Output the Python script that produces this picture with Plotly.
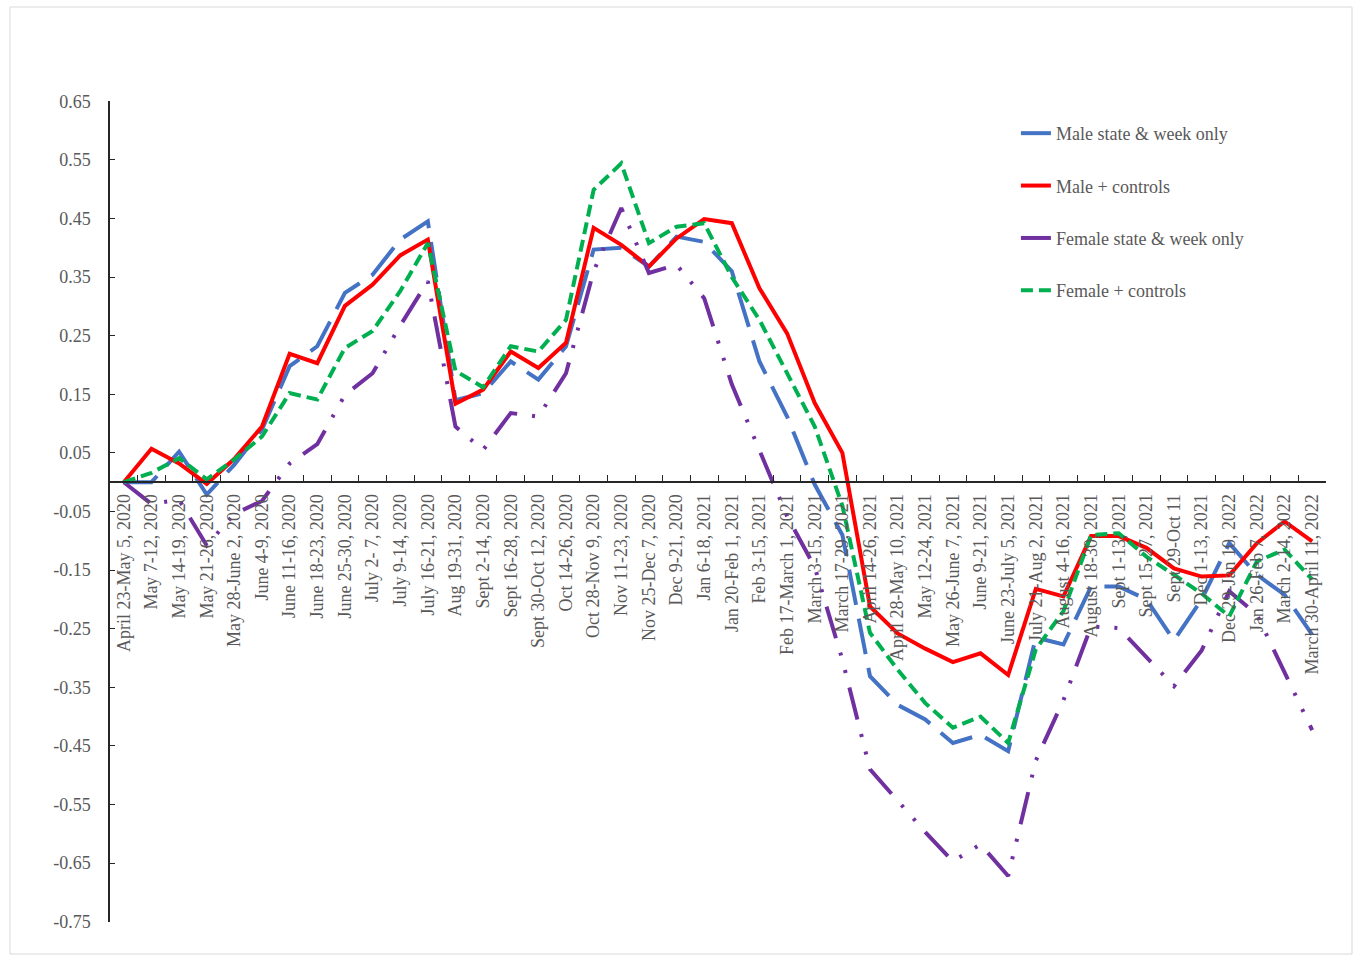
import plotly.graph_objects as go

# Survey periods (x categories)
PERIODS = [
    "April 23-May 5, 2020", "May 7-12, 2020", "May 14-19, 2020", "May 21-26, 2020",
    "May 28-June 2, 2020", "June 4-9, 2020", "June 11-16, 2020", "June 18-23, 2020",
    "June 25-30, 2020", "July 2- 7, 2020", "July 9-14, 2020", "July 16-21, 2020",
    "Aug 19-31, 2020", "Sept 2-14, 2020", "Sept 16-28, 2020", "Sept 30-Oct 12, 2020",
    "Oct 14-26, 2020", "Oct 28-Nov 9, 2020", "Nov 11-23, 2020", "Nov 25-Dec 7, 2020",
    "Dec 9-21, 2020", "Jan 6-18, 2021", "Jan 20-Feb 1, 2021", "Feb 3-15, 2021",
    "Feb 17-March 1, 2021", "March 3-15, 2021", "March 17-29, 2021", "April 14-26, 2021",
    "April 28-May 10, 2021", "May 12-24, 2021", "May 26-June 7, 2021", "June 9-21, 2021",
    "June 23-July 5, 2021", "July 21-Aug 2, 2021", "August 4-16, 2021", "August 18-30, 2021",
    "Sept 1-13, 2021", "Sept 15-27, 2021", "Sept 29-Oct 11", "Dec 1-13, 2021",
    "Dec 29-Jan 10, 2022", "Jan 26-Feb 7, 2022", "March 2-14, 2022", "March 30-April 11, 2022",
]

MALE_STATE_WEEK = [
    0.0, 0.0, 0.052, -0.021, 0.030, 0.090, 0.198, 0.232, 0.323, 0.354, 0.414, 0.445,
    0.140, 0.152, 0.206, 0.175, 0.232, 0.397, 0.400, 0.368, 0.419, 0.410, 0.360, 0.206,
    0.112, -0.004, -0.090, -0.331, -0.380, -0.405, -0.445, -0.431, -0.459, -0.265, -0.277,
    -0.178, -0.178, -0.200, -0.270, -0.200, -0.104, -0.158, -0.192, -0.260,
]

MALE_CONTROLS = [
    0.0, 0.057, 0.032, -0.003, 0.040, 0.095, 0.219, 0.203, 0.301, 0.337, 0.387, 0.414,
    0.134, 0.158, 0.223, 0.195, 0.238, 0.434, 0.405, 0.368, 0.416, 0.449, 0.442, 0.331,
    0.254, 0.135, 0.050, -0.212, -0.258, -0.284, -0.307, -0.292, -0.329, -0.182, -0.195,
    -0.092, -0.092, -0.112, -0.147, -0.161, -0.159, -0.104, -0.067, -0.101,
]

FEMALE_STATE_WEEK = [
    0.0, -0.037, -0.030, -0.108, -0.054, -0.032, 0.032, 0.065, 0.149, 0.186, 0.267, 0.343,
    0.095, 0.055, 0.118, 0.112, 0.186, 0.360, 0.468, 0.357, 0.371, 0.314, 0.167, 0.055,
    -0.058, -0.145, -0.303, -0.490, -0.544, -0.597, -0.647, -0.618, -0.672, -0.475, -0.372,
    -0.246, -0.249, -0.299, -0.348, -0.287, -0.186, -0.226, -0.323, -0.423,
]

FEMALE_CONTROLS = [
    0.0, 0.016, 0.041, 0.005, 0.039, 0.078, 0.152, 0.141, 0.229, 0.258, 0.326, 0.408,
    0.190, 0.162, 0.232, 0.223, 0.277, 0.499, 0.544, 0.408, 0.436, 0.442, 0.350, 0.277,
    0.186, 0.095, -0.040, -0.257, -0.320, -0.377, -0.419, -0.400, -0.445, -0.285, -0.220,
    -0.090, -0.087, -0.127, -0.158, -0.190, -0.229, -0.135, -0.115, -0.166,
]

Y_TICK_VALUES = [0.65, 0.55, 0.45, 0.35, 0.25, 0.15, 0.05, -0.05, -0.15, -0.25,
                 -0.35, -0.45, -0.55, -0.65, -0.75]
Y_TICK_LABELS = ["0.65", "0.55", "0.45", "0.35", "0.25", "0.15", "0.05", "-0.05",
                 "-0.15", "-0.25", "-0.35", "-0.45", "-0.55", "-0.65", "-0.75"]

FONT = "Liberation Serif, Times New Roman, serif"
TEXT_GREY = "#595959"
Y_MIN, Y_MAX = -0.75, 0.65

series = [
    ("Male state & week only", MALE_STATE_WEEK, "#4472C4", "36px,14px"),
    ("Male + controls", MALE_CONTROLS, "#FF0000", "solid"),
    ("Female state & week only", FEMALE_STATE_WEEK, "#7030A0",
     "33px,15px,3px,15px,3px,15px"),
    ("Female + controls", FEMALE_CONTROLS, "#00B050", "12px,6px"),
]

fig = go.Figure()
for i, (name, values, color, dash) in enumerate(series):
    fig.add_trace(go.Scatter(
        x=PERIODS, y=values, mode="lines", name=name,
        legendgroup=f"g{i}",
        line=dict(color=color, width=4, dash=dash),
    ))

fig.update_layout(
    width=1354, height=955,
    margin=dict(l=110, r=28, t=101, b=33),
    paper_bgcolor="white", plot_bgcolor="white",
    font=dict(family=FONT, size=18, color=TEXT_GREY),
    showlegend=True,
    legend=dict(
        x=0.745, y=0.983, xanchor="left", yanchor="top",
        font=dict(family=FONT, size=18, color=TEXT_GREY),
        bgcolor="rgba(0,0,0,0)", tracegroupgap=26, traceorder="grouped",
    ),
    xaxis=dict(
        type="category", range=[-0.5, len(PERIODS) - 0.5],
        anchor="free", position=(0 - Y_MIN) / (Y_MAX - Y_MIN),
        showline=True, linecolor="#262626", linewidth=1.5,
        ticks="inside", ticklen=6, tickwidth=1.2, tickcolor="#262626",
        tickson="boundaries", tickangle=-90, showgrid=False, zeroline=False,
        tickfont=dict(family=FONT, size=18, color=TEXT_GREY),
        ticklabelstandoff=4,
    ),
    yaxis=dict(
        range=[Y_MIN - 0.0005, Y_MAX + 0.0005],
        tickvals=Y_TICK_VALUES, ticktext=Y_TICK_LABELS,
        showline=True, linecolor="#262626", linewidth=1.5,
        ticks="inside", ticklen=5, tickwidth=1.2, tickcolor="#262626",
        showgrid=False, zeroline=False,
        tickfont=dict(family=FONT, size=18, color=TEXT_GREY),
        ticklabelstandoff=14,
    ),
    shapes=[dict(
        type="rect", xref="paper", yref="paper",
        x0=(10 - 110) / 1216, x1=(1352 - 110) / 1216,
        y0=(922 - 954) / 821, y1=(922 - 7) / 821,
        line=dict(color="#D9D9D9", width=1), fillcolor="rgba(0,0,0,0)", layer="below",
    )],
)

fig.write_html("out.html")
